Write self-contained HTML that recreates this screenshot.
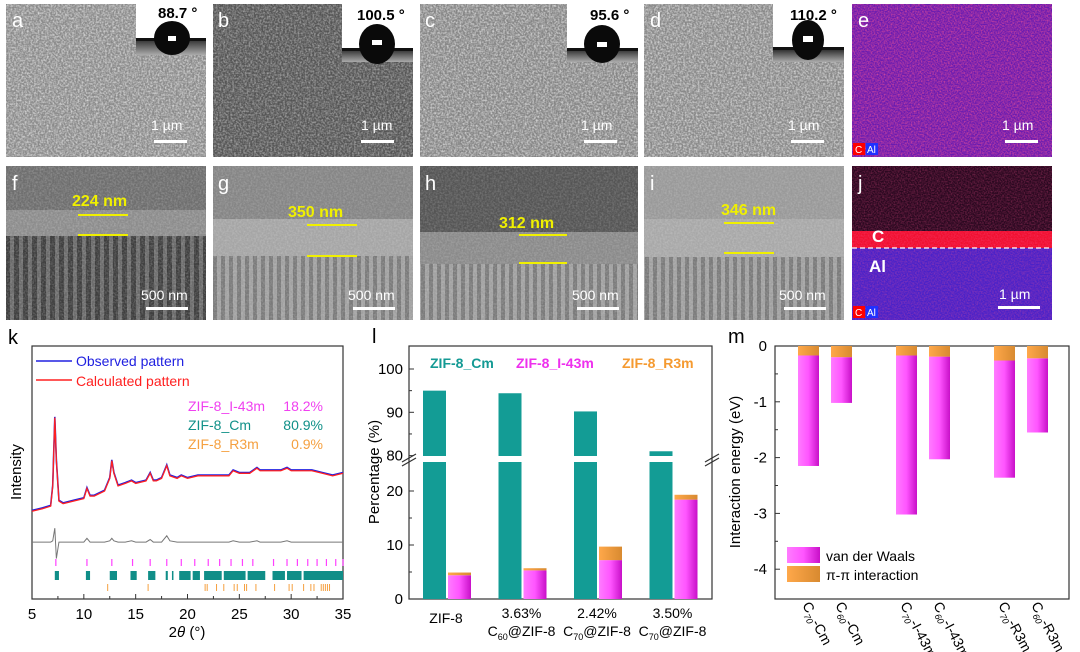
<!DOCTYPE html>
<html><head><meta charset="utf-8"><style>
body{margin:0;background:#fff;width:1080px;height:652px;overflow:hidden;font-family:"Liberation Sans","Noto Sans CJK SC",sans-serif}
svg{position:absolute;left:0;top:0}
</style></head><body>
<svg id="fig" width="1080" height="652" viewBox="0 0 1080 652" xmlns="http://www.w3.org/2000/svg" font-family="Liberation Sans, sans-serif">
<defs>
<filter id="grain" x="0" y="0" width="100%" height="100%">
<feTurbulence type="fractalNoise" baseFrequency="0.55" numOctaves="2" seed="3"/>
<feColorMatrix type="matrix" values="0 0 0 0 1  0 0 0 0 1  0 0 0 0 1  1.3 0 0 0 -0.45"/>
</filter>
<filter id="grainC" x="0" y="0" width="100%" height="100%">
<feTurbulence type="fractalNoise" baseFrequency="0.7" numOctaves="1" seed="7"/>
<feColorMatrix type="matrix" values="0 0 0 0 1  0 0 0 0 0.1  0 0 0 0 0.3  1.4 0 0 0 -0.5"/>
</filter>
<pattern id="cols" width="9" height="10" patternUnits="userSpaceOnUse"><rect width="9" height="10" fill="#3e3e3e"/><rect x="1" width="4" height="10" fill="#6a6a6a"/></pattern>
<pattern id="colsL" width="8" height="10" patternUnits="userSpaceOnUse"><rect width="8" height="10" fill="#7a7a7a"/><rect x="1" width="4" height="10" fill="#a0a0a0"/></pattern>
<linearGradient id="mag" x1="0" x2="1"><stop offset="0" stop-color="#ff7cff"/><stop offset="0.5" stop-color="#ff55ff"/><stop offset="1" stop-color="#c810c8"/></linearGradient>
<linearGradient id="org" x1="0" x2="1"><stop offset="0" stop-color="#ffa84a"/><stop offset="1" stop-color="#d88a30"/></linearGradient>
<linearGradient id="dropbg" x1="0" y1="0" x2="0" y2="1"><stop offset="0" stop-color="#333"/><stop offset="1" stop-color="#aaa"/></linearGradient>
</defs>

<!-- top row SEM -->
<g><rect x="6" y="4" width="200" height="153" fill="#8a8a8a"/><rect x="6" y="4" width="200" height="153" filter="url(#grain)"/></g>
<g><rect x="213" y="4" width="200" height="153" fill="#555"/><rect x="213" y="4" width="200" height="153" filter="url(#grain)" opacity="0.7"/></g>
<g><rect x="420" y="4" width="218" height="153" fill="#858585"/><rect x="420" y="4" width="218" height="153" filter="url(#grain)"/></g>
<g><rect x="644" y="4" width="200" height="153" fill="#888"/><rect x="644" y="4" width="200" height="153" filter="url(#grain)"/></g>
<g><rect x="852" y="4" width="200" height="153" fill="#6a1cb0"/><rect x="852" y="4" width="200" height="153" filter="url(#grainC)"/></g>

<!-- contact-angle insets -->
<g><rect x="136" y="4" width="70" height="51" fill="#fff"/><rect x="136" y="40" width="70" height="15" fill="url(#dropbg)"/><rect x="136" y="38" width="70" height="3" fill="#111"/><ellipse cx="172" cy="38" rx="18" ry="17" fill="#0a0a0a"/><rect x="168" y="36" width="8" height="5" fill="#fff"/><text x="158" y="18" font-size="15" font-weight="bold">88.7 °</text></g>
<g><rect x="342" y="4" width="71" height="58" fill="#fff"/><rect x="342" y="50" width="71" height="12" fill="url(#dropbg)"/><rect x="342" y="48" width="71" height="3" fill="#111"/><ellipse cx="377" cy="44" rx="18" ry="20" fill="#0a0a0a"/><rect x="372" y="40" width="10" height="5" fill="#fff"/><text x="357" y="20" font-size="15" font-weight="bold">100.5 °</text></g>
<g><rect x="567" y="4" width="71" height="58" fill="#fff"/><rect x="567" y="50" width="71" height="12" fill="url(#dropbg)"/><rect x="567" y="48" width="71" height="3" fill="#111"/><ellipse cx="602" cy="44" rx="18" ry="19" fill="#0a0a0a"/><rect x="597" y="42" width="10" height="5" fill="#fff"/><text x="590" y="20" font-size="15" font-weight="bold">95.6 °</text></g>
<g><rect x="773" y="4" width="71" height="58" fill="#fff"/><rect x="773" y="50" width="71" height="12" fill="url(#dropbg)"/><rect x="773" y="47" width="71" height="3" fill="#111"/><ellipse cx="808" cy="40" rx="16" ry="20" fill="#0a0a0a"/><rect x="803" y="36" width="10" height="6" fill="#fff"/><text x="790" y="20" font-size="15" font-weight="bold">110.2 °</text></g>

<!-- bottom row SEM cross sections -->
<g><rect x="6" y="166" width="200" height="154" fill="#6e6e6e"/><rect x="6" y="210" width="200" height="26" fill="#8c8c8c"/><rect x="6" y="236" width="200" height="84" fill="url(#cols)"/><rect x="6" y="166" width="200" height="154" filter="url(#grain)" opacity="0.35"/></g>
<g><rect x="213" y="166" width="200" height="154" fill="#858585"/><rect x="213" y="219" width="200" height="37" fill="#a5a5a5"/><rect x="213" y="256" width="200" height="64" fill="url(#colsL)"/><rect x="213" y="166" width="200" height="154" filter="url(#grain)" opacity="0.3"/></g>
<g><rect x="420" y="166" width="218" height="154" fill="#555"/><rect x="420" y="232" width="218" height="32" fill="#8a8a8a"/><rect x="420" y="264" width="218" height="56" fill="url(#colsL)"/><rect x="420" y="166" width="218" height="154" filter="url(#grain)" opacity="0.3"/></g>
<g><rect x="644" y="166" width="200" height="154" fill="#999"/><rect x="644" y="219" width="200" height="38" fill="#a8a8a8"/><rect x="644" y="257" width="200" height="63" fill="url(#colsL)"/><rect x="644" y="166" width="200" height="154" filter="url(#grain)" opacity="0.3"/></g>
<g><rect x="852" y="166" width="200" height="154" fill="#2a0820"/><rect x="852" y="231" width="200" height="17" fill="#f01030"/><rect x="852" y="248" width="200" height="72" fill="#4a22c8"/><rect x="852" y="166" width="200" height="154" filter="url(#grainC)" opacity="0.5"/><line x1="852" y1="248" x2="1052" y2="248" stroke="#fff" stroke-dasharray="5,3" stroke-width="1.2"/><text x="872" y="242" fill="#fff" font-size="17" font-weight="bold">C</text><text x="869" y="272" fill="#fff" font-size="17" font-weight="bold">Al</text></g>

<!-- panel letters & scale bars -->
<g fill="#fff" font-size="20">
<text x="12" y="27">a</text><text x="218" y="27">b</text><text x="425" y="27">c</text><text x="650" y="27">d</text><text x="858" y="27">e</text>
<text x="12" y="190">f</text><text x="218" y="190">g</text><text x="425" y="190">h</text><text x="650" y="190">i</text><text x="858" y="190">j</text>
</g>
<g fill="#fff" font-size="14">
<text x="151" y="130">1 µm</text><rect x="154" y="140" width="33" height="3"/>
<text x="361" y="130">1 µm</text><rect x="361" y="140" width="33" height="3"/>
<text x="581" y="130">1 µm</text><rect x="584" y="140" width="33" height="3"/>
<text x="788" y="130">1 µm</text><rect x="791" y="140" width="33" height="3"/>
<text x="1002" y="130">1 µm</text><rect x="1005" y="140" width="33" height="3"/>
<text x="141" y="300">500 nm</text><rect x="146" y="307" width="42" height="3"/>
<text x="348" y="300">500 nm</text><rect x="353" y="307" width="42" height="3"/>
<text x="572" y="300">500 nm</text><rect x="577" y="307" width="42" height="3"/>
<text x="779" y="300">500 nm</text><rect x="784" y="307" width="42" height="3"/>
<text x="999" y="299">1 µm</text><rect x="998" y="306" width="42" height="3"/>
</g>
<g font-size="10" fill="#fff">
<rect x="853" y="143" width="12" height="12" fill="#f00"/><text x="855" y="153">C</text><rect x="866" y="143" width="12" height="12" fill="#2030ff"/><text x="867" y="153">Al</text>
<rect x="853" y="306" width="12" height="12" fill="#f00"/><text x="855" y="316">C</text><rect x="866" y="306" width="12" height="12" fill="#2030ff"/><text x="867" y="316">Al</text>
</g>
<g fill="#f0f000" font-size="16" font-weight="bold">
<text x="72" y="206">224 nm</text><rect x="78" y="214" width="50" height="2"/><rect x="78" y="234" width="50" height="2"/>
<text x="288" y="217">350 nm</text><rect x="307" y="224" width="50" height="2"/><rect x="307" y="255" width="50" height="2"/>
<text x="499" y="228">312 nm</text><rect x="519" y="234" width="48" height="2"/><rect x="519" y="262" width="48" height="2"/>
<text x="721" y="215">346 nm</text><rect x="724" y="222" width="50" height="2"/><rect x="724" y="252" width="50" height="2"/>
</g>

<!-- panel letters charts -->
<text x="8" y="344" font-size="20">k</text>
<text x="372" y="343" font-size="20">l</text>
<text x="728" y="343" font-size="20">m</text>

<g id="chartK"></g>
<g id="chartL"></g>
<g id="chartM"></g>
</svg>
<script>
// ---- panel k data ----
const xrdTheta = [5,6,6.8,7.0,7.2,7.35,7.6,8,9,10,10.3,10.6,11,12,12.5,12.7,12.9,13.3,14,14.6,15,16,16.4,16.7,17,17.5,18,18.3,19,19.4,20,21,22,23,24,24.4,25,26,26.7,27,28,29,29.6,30,31,32,33,34,35];
const xrdObs = [35,36,37,45,72,55,39,38,39,40,44,41,41,43,48,55,50,45,46,47,46,47,50,47,47,48,53,49,48,49,48,49,49,49,49,51,50,50,52,51,51,51,52,51,51,51,50,49,50];
const xrdDiff = [22.5,22.5,22.5,23,28,16,22.5,22.5,22.5,22.5,24,22.5,22.5,22.5,23,24,23,22.5,22.5,23,22.5,22.5,23.5,22.5,22.5,22.5,25,23,22.5,22.5,22.5,22.5,22.5,22.5,22.5,23,22.5,22.5,23,22.5,22.5,22.5,23,22.5,22.5,22.5,22.5,22.5,22.5];
const tickI43m = [7.3,10.3,12.7,14.7,16.4,18,19.4,20.7,22,23.1,24.2,25.3,26.3,28.3,29.6,30.6,31.6,32.5,33.4,34.3,35];
const blocksCm = [[7.2,7.6],[10.2,10.6],[12.5,13.2],[14.5,15.1],[16.2,16.9],[17.9,18.1],[18.5,18.6],[19.2,20.3],[20.5,21.2],[21.6,23.3],[23.5,25.6],[25.8,27.5],[28.2,29.4],[29.6,31],[31.2,35]];
const tickR3m = [12.3,16.2,21.7,21.9,22.8,23.5,24.5,24.8,25.5,25.7,26.6,28.4,29.8,30.1,31.2,31.9,32.2,32.9,33.1,33.3,33.5,33.7];
const kXTicks = [5,10,15,20,25,30,35];
const phaseNames = ["ZIF-8_I-43m","ZIF-8_Cm","ZIF-8_R3m"];
const phasePct = ["18.2%","80.9%","0.9%"];
// ---- panel l data ----
const lCats = ["ZIF-8","C60@ZIF-8","C70@ZIF-8","C70@ZIF-8"];
const lLoad = ["","3.63%","2.42%","3.50%"];
const lCm = [95,94.4,90.2,81];
const lI43m = [4.4,5.3,7.2,18.4];
const lR3m = [0.5,0.4,2.5,0.9];
const lTicksLow = [0,10,20];
const lTicksHigh = [80,90,100];
// ---- panel m data ----
const mCats = [["70","-Cm"],["60","-Cm"],["70","-I-43m"],["60","-I-43m"],["70","-R3m"],["60","-R3m"]];
const mTotal = [-2.15,-1.02,-3.02,-2.03,-2.36,-1.55];
const mPi = [-0.17,-0.2,-0.17,-0.19,-0.26,-0.22];
const mTicks = [0,-1,-2,-3,-4];

const NS="http://www.w3.org/2000/svg";
function mk(parent,tag,attrs,txt){const e=document.createElementNS(NS,tag);for(const k in attrs)e.setAttribute(k,attrs[k]);if(txt!==undefined)e.textContent=txt;parent.appendChild(e);return e;}

// ===== K =====
(function(){
const g=document.getElementById('chartK');
const L=32,R=343,T=346,B=599;
const x=v=>L+(v-5)/30*(R-L);
const y=v=>B-v*2.53;
const frame=mk(g,'rect',{x:L,y:T,width:R-L,height:B-T,fill:'none',stroke:'#333','stroke-width':1.2});


kXTicks.forEach(t=>{
 const tk=mk(g,'line',{x1:x(t),x2:x(t),y1:B,y2:B-5,stroke:'#333'});
 
 
 const lb=mk(g,'text',{x:x(t),y:B+20,'font-size':15,'text-anchor':'middle'},t);
 
 
});
[7.5,12.5,17.5,22.5,27.5,32.5].forEach(t=>{mk(g,'line',{x1:x(t),x2:x(t),y1:B,y2:B-3,stroke:'#333'});});
const xt=mk(g,'text',{x:187,y:637,'font-size':15,'text-anchor':'middle'});
xt.innerHTML='2<tspan font-style="italic">θ</tspan> (°)';


const yt=mk(g,'text',{x:0,y:0,'font-size':15,'text-anchor':'middle',transform:'translate(21,472) rotate(-90)'},'Intensity');


const pts=(arr)=>xrdTheta.map((t,i)=>x(t)+','+y(arr[i])).join(' ');
const obs=mk(g,'polyline',{points:pts(xrdObs),fill:'none',stroke:'#2020e0','stroke-width':1.6});


const calc=mk(g,'polyline',{points:xrdTheta.map((t,i)=>x(t)+','+(y(xrdObs[i])+0.8)).join(' '),fill:'none',stroke:'#ff2020','stroke-width':1.3});


const diff=mk(g,'polyline',{points:pts(xrdDiff),fill:'none',stroke:'#777','stroke-width':1});


tickI43m.forEach(t=>{const e=mk(g,'line',{x1:x(t),x2:x(t),y1:559,y2:566,stroke:'#ff40ff','stroke-width':1.2});
 
 });
blocksCm.forEach(b=>{const e=mk(g,'rect',{x:x(b[0]),y:571,width:Math.max(1.5,x(b[1])-x(b[0])),height:9,fill:'#108e88'});
 
 });
tickR3m.forEach(t=>{const e=mk(g,'line',{x1:x(t),x2:x(t),y1:584,y2:591,stroke:'#f5a040','stroke-width':1});
 
 });
// legend
const l1=mk(g,'line',{x1:36,x2:72,y1:361,y2:361,stroke:'#2020e0','stroke-width':1.6});


const t1=mk(g,'text',{x:76,y:366,'font-size':14,fill:'#2020e0'},'Observed pattern');


const l2=mk(g,'line',{x1:36,x2:72,y1:380,y2:380,stroke:'#ff2020','stroke-width':1.6});


const t2=mk(g,'text',{x:76,y:386,'font-size':14,fill:'#ff2020'},'Calculated pattern');


const cols=['#f040f0','#109088','#f5a040'];
phaseNames.forEach((n,i)=>{
 const a=mk(g,'text',{x:188,y:411+i*19,'font-size':14,fill:cols[i]},n);
 
 
 const b=mk(g,'text',{x:323,y:411+i*19,'font-size':14,fill:cols[i],'text-anchor':'end'},phasePct[i]);
 
 
});
})();

// ===== L =====
(function(){
const g=document.getElementById('chartL');
const L=409,R=712,T=346,B=599;
const yLow=v=>B-v*5.4;
const yHigh=v=>369+(100-v)*4.33;
const yv=v=>v>25?yHigh(v):yLow(v);
const frame=mk(g,'rect',{x:L,y:T,width:R-L,height:B-T,fill:'none',stroke:'#333','stroke-width':1.2});


lTicksLow.concat(lTicksHigh).forEach(t=>{
 const yy=yv(t);
 const tk=mk(g,'line',{x1:L,x2:L+5,y1:yy,y2:yy,stroke:'#333'});
 
 
 const lb=mk(g,'text',{x:L-6,y:yy+5,'font-size':15,'text-anchor':'end'},t);
 
 
});
[5,15].forEach(t=>mk(g,'line',{x1:L,x2:L+3,y1:yLow(t),y2:yLow(t),stroke:'#333'}));
[85,95].forEach(t=>mk(g,'line',{x1:L,x2:L+3,y1:yHigh(t),y2:yHigh(t),stroke:'#333'}));
const yt=mk(g,'text',{x:0,y:0,'font-size':15,'text-anchor':'middle',transform:'translate(379,472) rotate(-90)'},'Percentage (%)');


lCats.forEach((c,i)=>{
 const cx=446+i*75.5;
 const b1=mk(g,'rect',{x:cx-23,y:yv(lCm[i]),width:23,height:B-yv(lCm[i]),fill:'#139c95'});
 
 
 const b2=mk(g,'rect',{x:cx+2,y:yLow(lI43m[i]),width:23,height:B-yLow(lI43m[i]),fill:'url(#mag)'});
 
 
 const top=lI43m[i]+lR3m[i];
 const b3=mk(g,'rect',{x:cx+2,y:yLow(top),width:23,height:yLow(lI43m[i])-yLow(top),fill:'url(#org)'});
 
 
 if(i===0){
  const t=mk(g,'text',{x:cx,y:623,'font-size':14,'text-anchor':'middle'},c);
  
  
 } else {
  const t0=mk(g,'text',{x:cx,y:618,'font-size':14,'text-anchor':'middle'},lLoad[i]);
  
  
  const t=mk(g,'text',{x:cx,y:636,'font-size':14,'text-anchor':'middle'});
  t.innerHTML=c.slice(0,1)+'<tspan font-size="9" dy="4">'+c.slice(1,3)+'</tspan><tspan dy="-4">'+c.slice(3)+'</tspan>';
  
  
 }
});
// break
const br=mk(g,'rect',{x:L+1,y:456,width:R-L-2,height:6,fill:'#fff'});


['M402,462 L416,454','M402,466 L416,458','M705,462 L719,454','M705,466 L719,458'].forEach(d=>{const p=mk(g,'path',{d:d,stroke:'#333','stroke-width':1.2});
 
 });
const lg=[['ZIF-8_Cm','#149a94',430],['ZIF-8_I-43m','#ee30ee',516],['ZIF-8_R3m','#f59a30',622]];
lg.forEach(a=>{const t=mk(g,'text',{x:a[2],y:368,'font-size':14,'font-weight':'bold',fill:a[1]},a[0]);
 
 });
})();

// ===== M =====
(function(){
const g=document.getElementById('chartM');
const L=775,R=1069,T=346,B=599;
const y=v=>T-v*55.8;
const frame=mk(g,'rect',{x:L,y:T,width:R-L,height:B-T,fill:'none',stroke:'#333','stroke-width':1.2});


mTicks.forEach(t=>{
 const tk=mk(g,'line',{x1:L,x2:L+5,y1:y(t),y2:y(t),stroke:'#333'});
 
 
 const lb=mk(g,'text',{x:L-8,y:y(t)+5,'font-size':15,'text-anchor':'end'},t);
 
 
});
[-0.5,-1.5,-2.5,-3.5].forEach(t=>mk(g,'line',{x1:L,x2:L+3,y1:y(t),y2:y(t),stroke:'#333'}));
const yt=mk(g,'text',{x:0,y:0,'font-size':15,'text-anchor':'middle',transform:'translate(740,472) rotate(-90)'},'Interaction energy (eV)');


const centers=[808,841,906,939,1004,1037];
mCats.forEach((c,i)=>{
 const cx=centers[i];
 const b1=mk(g,'rect',{x:cx-10,y:y(mPi[i]),width:21,height:y(mTotal[i])-y(mPi[i]),fill:'url(#mag)'});
 
 
 const b2=mk(g,'rect',{x:cx-10,y:y(0),width:21,height:y(mPi[i])-y(0),fill:'url(#org)'});
 
 
 const t=mk(g,'text',{x:0,y:0,'font-size':14,transform:'translate('+(cx-6)+',605) rotate(62)'});
 t.innerHTML='C<tspan font-size="9" dy="4" font-style="italic">'+c[0]+'</tspan><tspan dy="-4">'+c[1]+'</tspan>';
 
 
});
const s1=mk(g,'rect',{x:787,y:547,width:33,height:16,fill:'url(#mag)'});


const t1=mk(g,'text',{x:826,y:561,'font-size':14},'van der Waals');


const s2=mk(g,'rect',{x:787,y:566,width:33,height:16,fill:'url(#org)'});


const t2=mk(g,'text',{x:826,y:580,'font-size':14},'π-π interaction');


})();
</script>
</body></html>
